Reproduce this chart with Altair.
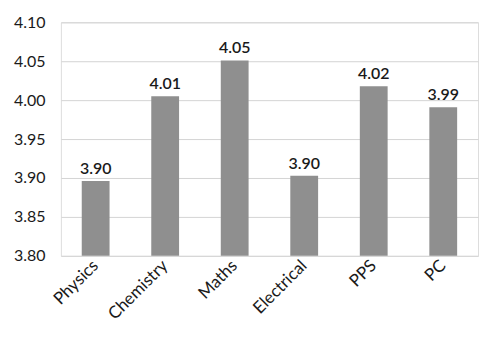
import altair as alt
import pandas as pd

subjects = ["Physics", "Chemistry", "Maths", "Electrical", "PPS", "PC"]
values = [3.896, 4.005, 4.051, 3.903, 4.018, 3.991]
labels = ["3.90", "4.01", "4.05", "3.90", "4.02", "3.99"]
y_ticks = [3.80, 3.85, 3.90, 3.95, 4.00, 4.05, 4.10]

df = pd.DataFrame({"subject": subjects, "value": values, "label": labels})

FONT = "Lato"

x = alt.X(
    "subject:N",
    sort=subjects,
    title=None,
    scale=alt.Scale(paddingInner=0.6, paddingOuter=0.3),
    axis=alt.Axis(
        labelAngle=-45,
        labelAlign="right",
        labelBaseline="middle",
        labelFont=FONT,
        labelFontSize=17,
        labelColor="#1a1a1a",
        labelPadding=7,
        ticks=False,
        domain=False,
        grid=False,
    ),
)
y = alt.Y(
    "value:Q",
    title=None,
    scale=alt.Scale(domain=[3.80, 4.10], zero=False, nice=False, clamp=True),
    axis=alt.Axis(
        values=y_ticks,
        format=".2f",
        labelFont=FONT,
        labelFontSize=16,
        labelColor="#1a1a1a",
        labelPadding=16,
        ticks=False,
        domain=False,
        grid=True,
        gridColor="#d4d4d4",
        gridWidth=1,
    ),
)

bars = alt.Chart(df).mark_bar(color="#8f8f8f").encode(x=x, y=y)
text = alt.Chart(df).mark_text(
    dy=-12, font=FONT, fontSize=16, fontWeight=600, color="#1a1a1a"
).encode(x=x, y=y, text="label:N")

chart = (
    alt.layer(bars, text)
    .properties(
        width=418,
        height=234,
        autosize=alt.AutoSizeParams(type="none"),
        padding={"left": 53, "top": 14, "right": 2, "bottom": 75},
    )
    .configure_view(stroke=None)
    .configure(background="white")
)

chart.save("out.html", embed_options={"renderer": "svg", "actions": False})
